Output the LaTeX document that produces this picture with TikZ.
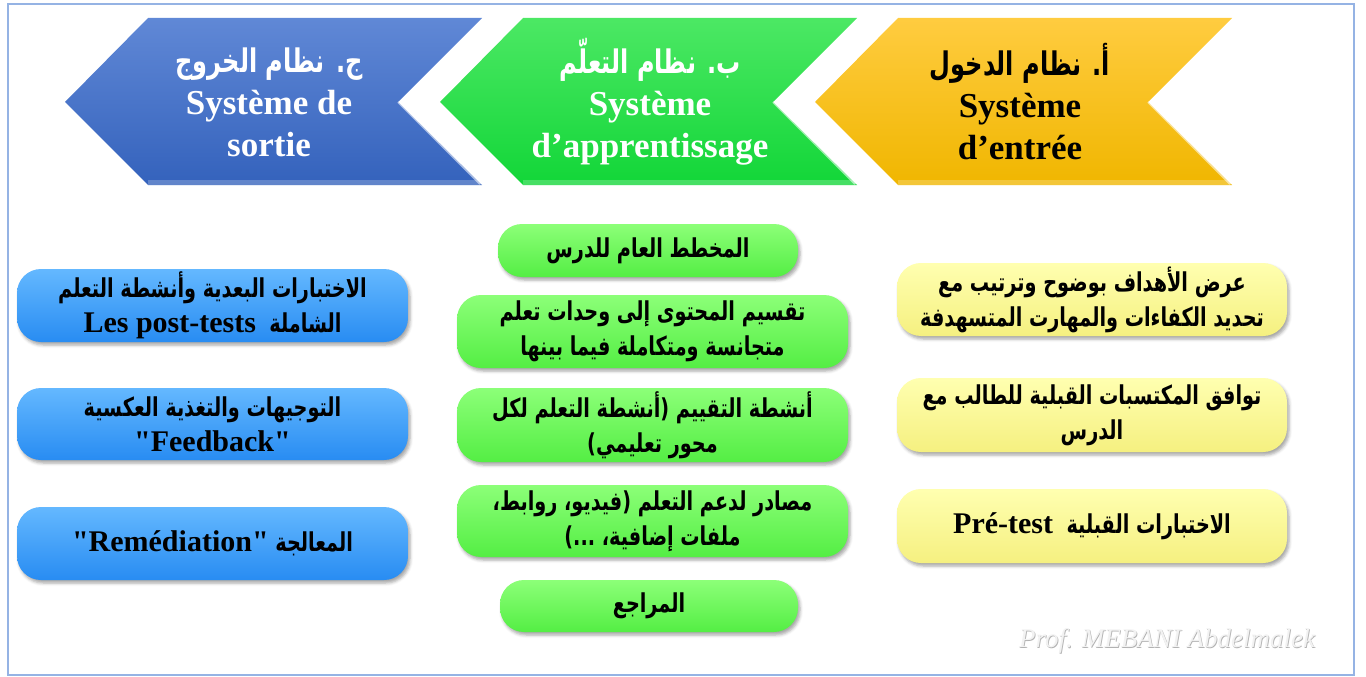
\documentclass[tikz,border=0pt]{standalone}
\usepackage{fontspec}
\setmainfont{Liberation Serif}[Ligatures=TeXOff]
\newfontfamily\arabicfont[Script=Arabic,FakeStretch=0.74]{DejaVu Sans}
\TeXXeTstate=1
\usetikzlibrary{shadows.blur}
\definecolor{frameblue}{RGB}{149,179,228}
\definecolor{chbluetop}{RGB}{96,136,214}
\definecolor{chbluebot}{RGB}{52,98,188}
\definecolor{chgreentop}{RGB}{76,232,100}
\definecolor{chgreenbot}{RGB}{18,214,56}
\definecolor{chyeltop}{RGB}{255,204,64}
\definecolor{chyelbot}{RGB}{240,182,0}
\definecolor{bxbluetop}{RGB}{100,184,255}
\definecolor{bxbluebot}{RGB}{40,140,242}
\definecolor{bxgreentop}{RGB}{140,255,120}
\definecolor{bxgreenbot}{RGB}{84,238,68}
\definecolor{bxyeltop}{RGB}{255,255,176}
\definecolor{bxyelbot}{RGB}{245,240,128}
\newcommand{\ARh}[1]{{\arabicfont\bfseries\fontsize{32.5}{42}\selectfont\beginR #1\endR}}
\newcommand{\ARb}[1]{{\arabicfont\bfseries\fontsize{26}{35}\selectfont\beginR #1\endR}}
\newcommand{\LTb}[1]{{\rmfamily\bfseries\fontsize{30}{35}\selectfont\beginL #1\endL}}
\begin{document}
\begin{tikzpicture}[x=1pt,y=-1pt,
  chevtext/.style={align=center,font=\bfseries\fontsize{35}{42}\selectfont,inner sep=0pt},
  boxbase/.style={rounded corners=24pt,align=center,inner sep=0pt,
    font=\bfseries\fontsize{30}{35}\selectfont,
    blur shadow={shadow xshift=2pt,shadow yshift=-3pt,shadow blur radius=3pt,shadow opacity=35}},
  bluebox/.style={boxbase,top color=bxbluetop,bottom color=bxbluebot,minimum width=391pt},
  greenbox/.style={boxbase,top color=bxgreentop,bottom color=bxgreenbot},
  yelbox/.style={boxbase,top color=bxyeltop,bottom color=bxyelbot,minimum width=390pt},
  bevel/.style={white,opacity=0.55,line width=2pt},
  band/.style={white,opacity=0.22},
  wmark/.style={font=\itshape\fontsize{27}{30}\selectfont,inner sep=0pt}
]
\useasboundingbox (0,0) rectangle (1366,677);
\draw[frameblue,line width=2pt] (8,4) rectangle (1354,675);

% chevrons
\shade[top color=chbluetop,bottom color=chbluebot] (65,102) -- (148,18) -- (482,18) -- (398,102) -- (482,185) -- (148,185) -- cycle;
\fill[band] (148,180) -- (477,180) -- (482,185) -- (148,185) -- cycle;
\draw[bevel] (398,102) -- (480,184);
\shade[top color=chgreentop,bottom color=chgreenbot] (440,102) -- (523,18) -- (857,18) -- (773,102) -- (857,185) -- (523,185) -- cycle;
\fill[band] (523,180) -- (852,180) -- (857,185) -- (523,185) -- cycle;
\draw[bevel] (773,102) -- (855,184);
\shade[top color=chyeltop,bottom color=chyelbot] (815,102) -- (898,18) -- (1232,18) -- (1148,102) -- (1232,185) -- (898,185) -- cycle;
\fill[band] (898,180) -- (1227,180) -- (1232,185) -- (898,185) -- cycle;
\draw[bevel] (1148,102) -- (1230,184);

\node[chevtext,text=white] (hsortie) at (269,102) {\ARh{ج. نظام الخروج}\\Système de\\sortie};
\node[chevtext,text=white] (happ) at (650,102) {\ARh{ب. نظام التعلّم}\\Système\\d’apprentissage};
\node[chevtext,text=black] (hentree) at (1020,102) {\ARh{أ. نظام الدخول}\\Système\\d’entrée};

% blue boxes
\node[bluebox,minimum height=73pt] (b1) at (212.5,305.5) {\ARb{الاختبارات البعدية وأنشطة التعلم}\\\ARb{الشاملة \ \LTb{Les post-tests}}};
\node[bluebox,minimum height=72pt] (b2) at (212.5,424) {\ARb{التوجيهات والتغذية العكسية}\\"Feedback"};
\node[bluebox,minimum height=73pt] (b3) at (212.5,543.5) {\ARb{المعالجة \LTb{"Remédiation"}}};

% green boxes
\node[greenbox,minimum width=300pt,minimum height=53pt] (g1) at (648,250.5) {\ARb{المخطط العام للدرس}};
\node[greenbox,minimum width=391pt,minimum height=73pt] (g2) at (652.5,331.5) {\ARb{تقسيم المحتوى إلى وحدات تعلم}\\\ARb{متجانسة ومتكاملة فيما بينها}};
\node[greenbox,minimum width=391pt,minimum height=74pt] (g3) at (652.5,425) {\ARb{أنشطة التقييم (أنشطة التعلم لكل}\\\ARb{محور تعليمي)}};
\node[greenbox,minimum width=391pt,minimum height=72pt] (g4) at (652.5,521) {\ARb{مصادر لدعم التعلم (فيديو، روابط،}\\\ARb{ملفات إضافية، ...)}};
\node[greenbox,minimum width=298pt,minimum height=52pt] (g5) at (649,606) {\ARb{المراجع}};

% yellow boxes
\node[yelbox,minimum height=73pt] (y1) at (1092,299.5) {\ARb{عرض الأهداف بوضوح وترتيب مع}\\\ARb{تحديد الكفاءات والمهارت المتسهدفة}};
\node[yelbox,minimum height=74pt] (y2) at (1092,415) {\ARb{توافق المكتسبات القبلية للطالب مع}\\\ARb{الدرس}};
\node[yelbox,minimum height=74pt] (y3) at (1092,526) {\ARb{الاختبارات القبلية \ \LTb{Pré-test}}};

% watermark
\node[wmark,text=gray!60] (wm1) at (1167.8,641.8) {Prof. MEBANI Abdelmalek};
\node[wmark,text=gray!10] (wm2) at (1167,641) {Prof. MEBANI Abdelmalek};
\end{tikzpicture}
\end{document}
